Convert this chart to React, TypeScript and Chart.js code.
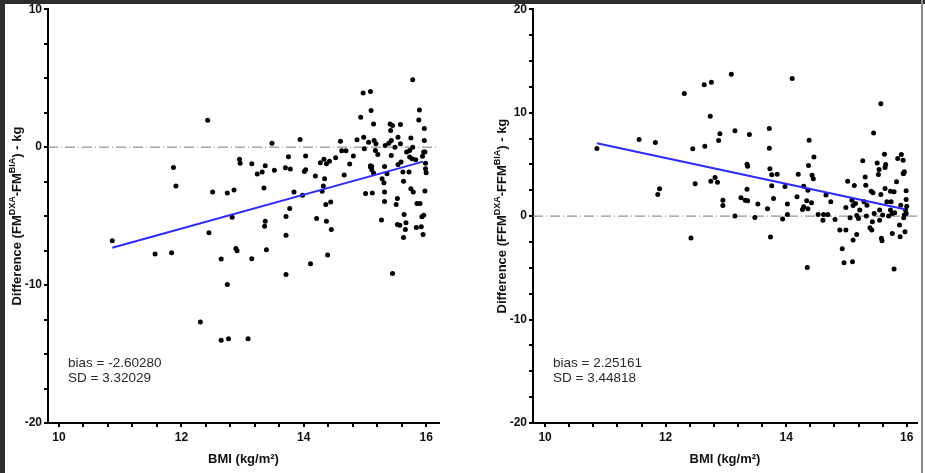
import React, { useEffect, useRef } from 'react';
import { Chart, registerables } from 'chart.js';

Chart.register(...registerables);

const FONT = '"Liberation Sans", Arial, Helvetica, sans-serif';

// ---- tick values / labels ----
const X_TICKS = [10, 10.4, 10.8, 11.2, 11.6, 12, 12.4, 12.8, 13.2, 13.6, 14, 14.4, 14.8, 15.2, 15.6, 16];
const X_LABELED = [10, 12, 14, 16];
const FM_Y_TICKS = [-20, -17.5, -15, -12.5, -10, -7.5, -5, -2.5, 0, 2.5, 5, 7.5, 10];
const FFM_Y_TICKS = [-20, -17.5, -15, -12.5, -10, -7.5, -5, -2.5, 0, 2.5, 5, 7.5, 10, 12.5, 15, 17.5, 20];
const Y_LABELED = [-20, -10, 0, 10, 20];

// ---- left panel: fat mass difference ----
const FM_BMI = [
  10.87, 11.57, 11.84, 11.87, 11.91, 12.31, 12.43, 12.45, 12.51, 12.65,
  12.65, 12.75, 12.77, 12.75, 12.83, 12.86, 12.89, 12.91, 12.95, 12.96,
  13.09, 13.15, 13.15, 13.24, 13.32, 13.35, 13.36, 13.37, 13.37, 13.39,
  13.48, 13.52, 13.70, 13.71, 13.71, 13.71, 13.75, 13.77, 13.78, 13.84,
  13.94, 13.98, 14.01, 14.03, 14.03, 14.11, 14.19, 14.21, 14.27, 14.30,
  14.33, 14.34, 14.32, 14.36, 14.37, 14.39, 14.37, 14.42, 14.44, 14.45,
  14.52, 14.60, 14.62, 14.66, 14.69, 14.75, 14.81, 14.87, 14.93, 14.97,
  14.98, 14.99, 15.01, 15.06, 15.09, 15.09, 15.10, 15.11, 15.12, 15.14,
  15.14, 15.15, 15.17, 15.18, 15.21, 15.27, 15.28, 15.31, 15.32, 15.32,
  15.32, 15.33, 15.36, 15.39, 15.41, 15.42, 15.43, 15.43, 15.45, 15.45,
  15.49, 15.51, 15.53, 15.54, 15.54, 15.53, 15.57, 15.58, 15.58, 15.59,
  15.62, 15.63, 15.64, 15.63, 15.66, 15.67, 15.68, 15.72, 15.73, 15.73,
  15.75, 15.75, 15.77, 15.78, 15.78, 15.79, 15.83, 15.84, 15.85, 15.88,
  15.89, 15.90, 15.92, 15.93, 15.94, 15.95, 15.96, 15.96, 15.97, 15.97,
  15.98, 15.99, 15.99, 16.00, 15.98, 15.09, 15.11,
];
const FM_DIFF = [
  -6.79, -7.75, -7.65, -1.47, -2.82, -12.68, 1.95, -6.21, -3.25, -8.11,
  -14.0, -3.32, -13.9, -9.96, -5.08, -3.10, -7.34, -7.51, -0.87, -1.16,
  -13.9, -8.09, -1.20, -1.95, -1.80, -2.96, -5.73, -5.37, -1.35, -7.44,
  0.29, -1.68, -1.49, -5.03, -6.38, -9.24, -0.70, -4.45, -1.59, -3.25,
  0.55, -3.49, -1.76, -0.65, -1.64, -8.45, -2.09, -5.17, -1.13, -3.20,
  -0.87, -2.29, -2.82, -4.16, -5.37, -7.82, -1.20, -1.03, -3.97, -5.97,
  -0.77, 0.43, -0.26, -2.02, -0.26, -1.23, -0.65, 0.53, 2.17, 3.92,
  0.72, -0.12, -3.37, 0.36, 4.04, -1.44, 2.65, -1.64, -3.32, 1.68,
  -1.88, 0.48, -0.24, 0.24, -0.53, -5.29, -2.29, -2.58, -1.40, -3.25,
  -3.95, 0.12, -1.93, 0.29, 1.68, 1.20, 0.48, -0.60, -9.17, 1.56,
  0.00, -4.16, -3.73, -1.25, 0.72, -5.61, -5.66, 1.64, 0.24, -1.08,
  -1.80, -2.48, -4.89, -6.55, -5.97, -5.49, -0.36, -1.80, -0.24, -0.72,
  0.67, -3.01, -0.84, 4.89, 0.00, -3.25, -0.91, -5.82, -4.09, 1.97,
  2.70, -4.09, -5.78, -5.05, -0.67, -6.33, -4.93, -0.36, 1.35, 0.48,
  -3.18, -1.16, -1.56, -1.85, -0.36, -1.35, -1.40,
];
const FM_FIT_X = [10.87, 15.95];
const FM_FIT_Y = [-7.3, -1.05];
const FM_STATS = ['bias = -2.60280', 'SD = 3.32029'];

// ---- right panel: fat-free mass difference ----
const FFM_BMI = [
  10.86, 11.56, 11.83, 11.87, 11.90, 12.31, 12.42, 12.45, 12.49, 12.64,
  12.65, 12.75, 12.74, 12.76, 12.82, 12.86, 12.88, 12.90, 12.95, 12.95,
  13.09, 13.15, 13.15, 13.25, 13.32, 13.35, 13.36, 13.35, 13.36, 13.39,
  13.48, 13.53, 13.69, 13.72, 13.72, 13.73, 13.74, 13.76, 13.76, 13.79,
  13.85, 13.94, 13.98, 14.02, 14.02, 14.10, 14.18, 14.20, 14.27, 14.29,
  14.29, 14.34, 14.35, 14.36, 14.37, 14.38, 14.36, 14.42, 14.43, 14.45,
  14.46, 14.53, 14.61, 14.62, 14.66, 14.69, 14.74, 14.81, 14.89, 14.93,
  14.96, 14.99, 14.99, 15.02, 15.06, 15.09, 15.10, 15.11, 15.11, 15.13,
  15.15, 15.17, 15.17, 15.20, 15.22, 15.27, 15.29, 15.31, 15.32, 15.33,
  15.34, 15.39, 15.41, 15.42, 15.43, 15.44, 15.45, 15.46, 15.51, 15.53,
  15.54, 15.55, 15.55, 15.57, 15.57, 15.58, 15.59, 15.60, 15.63, 15.64,
  15.65, 15.64, 15.67, 15.70, 15.73, 15.73, 15.74, 15.76, 15.76, 15.79,
  15.79, 15.80, 15.83, 15.85, 15.88, 15.89, 15.90, 15.91, 15.94, 15.94,
  15.95, 15.96, 15.96, 15.97, 15.98, 15.99, 15.99, 16.00, 15.99, 15.95,
];
const FFM_DIFF = [
  6.53, 7.40, 7.11, 2.09, 2.64, 11.86, -2.12, 6.50, 3.12, 12.70,
  6.75, 3.38, 9.65, 12.93, 3.73, 3.28, 7.30, 7.97, 1.54, 1.03,
  13.70, 8.26, 0.0, 1.77, 1.54, 5.02, 4.82, 2.60, 1.48, 7.88,
  -0.13, 1.16, 0.71, 8.46, 6.56, 4.57, -2.03, 3.99, 2.93, 1.70,
  4.05, -0.29, 2.86, 1.16, 0.16, 13.31, 1.86, 4.05, 0.64, 2.89,
  0.90, 1.48, -4.98, 2.51, 4.89, 7.33, 0.71, 1.29, 3.95, 3.60,
  5.72, 0.16, -0.39, 0.16, 2.03, 0.16, 1.38, -0.32, -1.35, -3.15,
  -4.50, -1.35, 0.84, 3.38, -0.16, 1.54, -4.41, -2.32, 1.03, 2.96,
  1.22, 0.06, -1.77, -0.23, 0.58, 5.34, 1.38, 3.79, 2.99, 0.0,
  1.06, -1.13, 2.41, -1.35, -0.55, 2.25, 8.04, 0.26, 5.14, 4.02,
  4.50, 0.58, -0.39, 2.09, 10.87, -2.15, -2.38, 0.10, 5.98, 4.69,
  4.98, 2.67, 1.38, 0.0, 2.41, 0.58, 1.38, -1.67, 0.26, 2.35,
  -5.11, 0.32, 3.31, 5.56, -0.87, -1.99, 1.06, 5.95, 5.40, 4.12,
  -0.16, 0.10, 4.28, -1.51, 0.58, 2.44, 1.61, 0.96, 0.26, 4.12,
];
const FFM_FIT_X = [10.86, 15.97];
const FFM_FIT_Y = [7.05, 0.66];
const FFM_STATS = ['bias = 2.25161', 'SD = 3.44818'];

const X_TITLE = 'BMI (kg/m²)';
const FM_Y_TITLE = [
  { t: 'Difference (FM', sup: false },
  { t: 'DXA', sup: true },
  { t: '-FM', sup: false },
  { t: 'BIA', sup: true },
  { t: ') - kg', sup: false },
];
const FFM_Y_TITLE = [
  { t: 'Difference (FFM', sup: false },
  { t: 'DXA', sup: true },
  { t: '-FFM', sup: false },
  { t: 'BIA', sup: true },
  { t: ') - kg', sup: false },
];

type Part = { t: string; sup: boolean };

interface PanelSpec {
  bmi: number[];
  diff: number[];
  fitX: number[];
  fitY: number[];
  stats: string[];
  yTitle: Part[];
  yTicks: number[];
  yMin: number;
  yMax: number;
  xMin: number;
  xMax: number;
  padLeft: number;
  padRight: number;
}

const textPlugin = {
  id: 'panelText',
  afterDraw(chart: any, _args: any, opts: any) {
    const { ctx, chartArea } = chart;
    const spec: PanelSpec = opts.spec;
    ctx.save();
    // x title
    ctx.fillStyle = '#111';
    ctx.font = `bold 13px ${FONT}`;
    ctx.textAlign = 'center';
    ctx.textBaseline = 'middle';
    ctx.fillText(X_TITLE, (chartArea.left + chartArea.right) / 2, chartArea.bottom + 36);

    // y title with superscripts
    const mainFont = `bold 13px ${FONT}`;
    const supFont = `bold 9px ${FONT}`;
    let total = 0;
    const widths = spec.yTitle.map((p) => {
      ctx.font = p.sup ? supFont : mainFont;
      const w = ctx.measureText(p.t).width;
      total += w;
      return w;
    });
    ctx.translate(chartArea.left - 32, (chartArea.top + chartArea.bottom) / 2);
    ctx.rotate(-Math.PI / 2);
    ctx.textAlign = 'left';
    ctx.textBaseline = 'alphabetic';
    let x = -total / 2;
    spec.yTitle.forEach((p, i) => {
      ctx.font = p.sup ? supFont : mainFont;
      ctx.fillText(p.t, x, p.sup ? -1 : 5);
      x += widths[i];
    });
    ctx.restore();

    // stats annotation
    ctx.save();
    ctx.fillStyle = '#2a2a2a';
    ctx.font = `13.5px ${FONT}`;
    ctx.textAlign = 'left';
    ctx.textBaseline = 'top';
    spec.stats.forEach((s, i) => {
      ctx.fillText(s, chartArea.left + 20, chartArea.bottom - 66 + i * 15);
    });
    ctx.restore();
  },
};

function makeConfig(spec: PanelSpec): any {
  const points = spec.bmi.map((x, i) => ({ x, y: spec.diff[i] }));
  const fit = spec.fitX.map((x, i) => ({ x, y: spec.fitY[i] }));
  const zero = [
    { x: spec.xMin, y: 0 },
    { x: spec.xMax, y: 0 },
  ];
  return {
    type: 'scatter',
    data: {
      datasets: [
        {
          data: fit,
          showLine: true,
          borderColor: '#2b2bff',
          borderWidth: 2,
          pointRadius: 0,
          fill: false,
        },
        {
          data: points,
          pointRadius: 2.5,
          pointBackgroundColor: '#000',
          pointBorderWidth: 0,
          pointStyle: 'circle',
        },
        {
          data: zero,
          showLine: true,
          borderColor: '#777',
          borderWidth: 1,
          borderDash: [10, 3, 1, 3],
          pointRadius: 0,
          fill: false,
        },
      ],
    },
    options: {
      animation: false,
      responsive: false,
      maintainAspectRatio: false,
      layout: { padding: { left: spec.padLeft, right: spec.padRight, top: 0, bottom: 0 } },
      plugins: {
        legend: { display: false },
        tooltip: { enabled: false },
        title: { display: false },
        panelText: { spec },
      },
      scales: {
        x: {
          type: 'linear',
          min: spec.xMin,
          max: spec.xMax,
          afterBuildTicks: (s: any) => {
            s.ticks = X_TICKS.map((v) => ({ value: v }));
          },
          afterFit: (s: any) => {
            s.height = 50;
          },
          ticks: {
            autoSkip: false,
            maxRotation: 0,
            padding: 3,
            color: '#111',
            font: { family: FONT, size: 12, weight: 'bold' },
            callback: (v: number) => (X_LABELED.includes(v) ? String(v) : ''),
          },
          grid: {
            drawOnChartArea: false,
            drawTicks: true,
            tickLength: 4,
            color: '#000',
            lineWidth: 2,
          },
          border: { display: true, color: '#000', width: 2 },
        },
        y: {
          type: 'linear',
          min: spec.yMin,
          max: spec.yMax,
          afterBuildTicks: (s: any) => {
            s.ticks = spec.yTicks.map((v) => ({ value: v }));
          },
          afterFit: (s: any) => {
            s.width = 43;
          },
          ticks: {
            autoSkip: false,
            padding: 2,
            color: '#111',
            font: { family: FONT, size: 12, weight: 'bold' },
            callback: (v: number) => (Y_LABELED.includes(v) ? String(v) : ''),
          },
          grid: {
            drawOnChartArea: false,
            drawTicks: true,
            tickLength: 4,
            color: '#000',
            lineWidth: 2,
          },
          border: { display: true, color: '#000', width: 2 },
        },
      },
    },
    plugins: [textPlugin],
  };
}

function Panel({ spec, left, width }: { spec: PanelSpec; left: number; width: number }) {
  const ref = useRef<HTMLCanvasElement | null>(null);
  useEffect(() => {
    if (!ref.current) return;
    const chart = new Chart(ref.current, makeConfig(spec));
    return () => chart.destroy();
  }, [spec]);
  return (
    <canvas
      ref={ref}
      width={width}
      height={473}
      style={{ position: 'absolute', left, top: 0, width, height: 473 }}
    />
  );
}

const FM_SPEC: PanelSpec = {
  bmi: FM_BMI,
  diff: FM_DIFF,
  fitX: FM_FIT_X,
  fitY: FM_FIT_Y,
  stats: FM_STATS,
  yTitle: FM_Y_TITLE,
  yTicks: FM_Y_TICKS,
  yMin: -20,
  yMax: 10,
  xMin: 9.82,
  xMax: 16.21,
  padLeft: 5,
  padRight: 23,
};

const FFM_SPEC: PanelSpec = {
  bmi: FFM_BMI,
  diff: FFM_DIFF,
  fitX: FFM_FIT_X,
  fitY: FFM_FIT_Y,
  stats: FFM_STATS,
  yTitle: FFM_Y_TITLE,
  yTicks: FFM_Y_TICKS,
  yMin: -20,
  yMax: 20,
  xMin: 9.8,
  xMax: 16.17,
  padLeft: 28,
  padRight: 0,
};

export default function App() {
  return (
    <div
      style={{
        position: 'fixed',
        left: 0,
        top: 0,
        width: 925,
        height: 473,
        background: '#fff',
        overflow: 'hidden',
      }}
    >
      <div style={{ position: 'absolute', left: 0, top: 0, width: 5, height: 473, background: '#2e2e2e' }} />
      <div style={{ position: 'absolute', left: 0, top: 0, width: 925, height: 4, background: '#2e2e2e' }} />
      <div style={{ position: 'absolute', left: 921, top: 0, width: 2, height: 473, background: '#8a8a8a' }} />
      <Panel spec={FM_SPEC} left={0} width={462} />
      <Panel spec={FFM_SPEC} left={462} width={459} />
    </div>
  );
}
